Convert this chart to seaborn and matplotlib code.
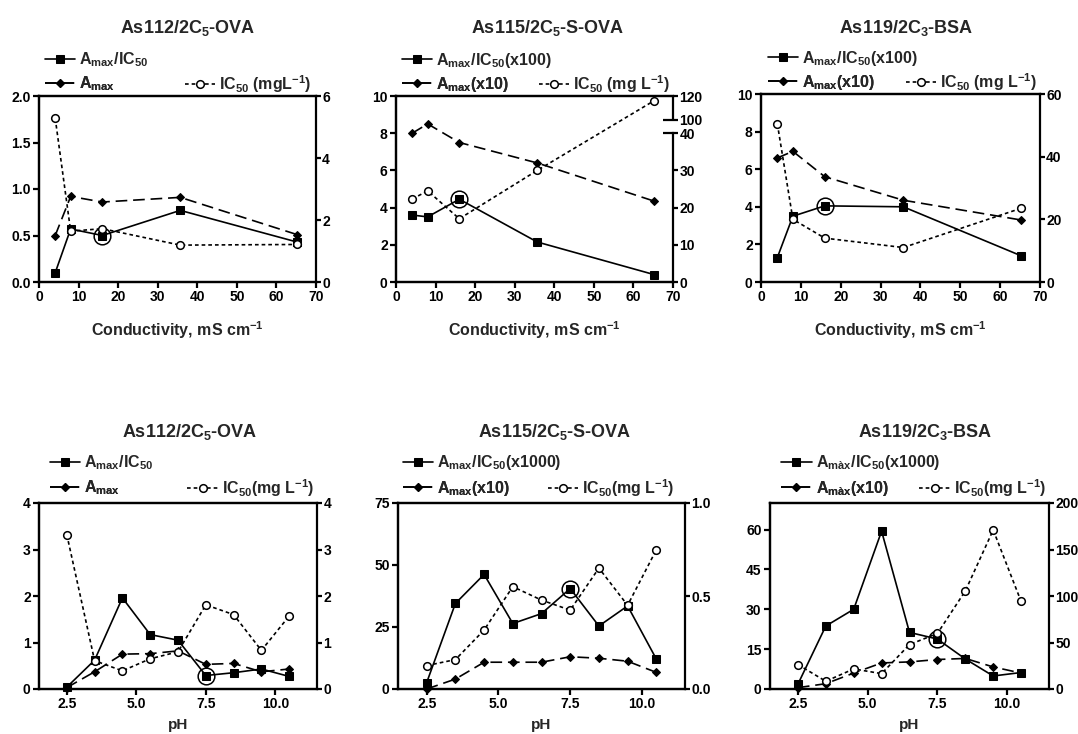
import numpy as np
import pandas as pd
import matplotlib
matplotlib.use("Agg")
import matplotlib.pyplot as plt
import matplotlib.transforms as mtransforms
from matplotlib.ticker import FormatStrFormatter, FixedLocator
import seaborn as sns

# ---------------- data ----------------
cond = [4.1, 8.0, 16.0, 35.7, 65.2]
ph = [2.5, 3.5, 4.5, 5.5, 6.5, 7.5, 8.5, 9.5, 10.5]

# top row: conductivity
as112_cond_ratio = [0.10, 0.57, 0.50, 0.77, 0.43]
as112_cond_amax = [0.50, 0.92, 0.86, 0.91, 0.51]
as112_cond_ic50 = [5.28, 1.64, 1.72, 1.19, 1.21]

as115_cond_ratio = [3.6, 3.5, 4.45, 2.15, 0.4]
as115_cond_amax = [8.0, 8.5, 7.5, 6.4, 4.35]
as115_cond_ic50 = [22.3, 24.5, 17.0, 30.0, 116.0]

as119_cond_ratio = [1.3, 3.5, 4.05, 4.0, 1.4]
as119_cond_amax = [6.6, 6.95, 5.6, 4.35, 3.3]
as119_cond_ic50 = [50.5, 20.0, 14.0, 11.0, 23.5]

# bottom row: pH
as112_ph_ratio = [0.04, 0.62, 1.96, 1.17, 1.05, 0.29, 0.35, 0.43, 0.27]
as112_ph_amax = [0.03, 0.37, 0.75, 0.76, 0.82, 0.53, 0.55, 0.37, 0.43]
as112_ph_ic50 = [3.32, 0.61, 0.39, 0.65, 0.80, 1.81, 1.60, 0.83, 1.57]

as115_ph_ratio = [2.6, 34.5, 46.2, 26.4, 30.4, 40.5, 25.4, 33.5, 12.1]
as115_ph_amax = [0.0, 4.0, 10.8, 10.8, 10.8, 13.0, 12.4, 11.2, 6.7]
as115_ph_ic50 = [0.126, 0.158, 0.317, 0.55, 0.478, 0.424, 0.65, 0.45, 0.748]

as119_ph_ratio = [1.8, 23.7, 30.0, 59.4, 21.3, 18.8, 11.3, 4.9, 6.2]
as119_ph_amax = [0.5, 2.0, 6.0, 9.8, 10.2, 11.1, 11.5, 8.3, 6.0]
as119_ph_ic50 = [26.3, 8.3, 21.6, 16.5, 47.8, 59.7, 105.4, 171.0, 94.2]

# highlighted (circled) points
highlight_x = [16.0, 16.0, 16.0, 7.5, 7.5, 7.5]
highlight_y = [0.50, 4.45, 4.05, 0.29, 40.5, 18.8]

titles = ["As112/2C$_5$-OVA", "As115/2C$_5$-S-OVA", "As119/2C$_3$-BSA",
          "As112/2C$_5$-OVA", "As115/2C$_5$-S-OVA", "As119/2C$_3$-BSA"]
ratio_labels = ["A$_{max}$/IC$_{50}$", "A$_{max}$/IC$_{50}$(x100)", "A$_{max}$/IC$_{50}$(x100)",
                "A$_{max}$/IC$_{50}$", "A$_{max}$/IC$_{50}$(x1000)", "A$_{màx}$/IC$_{50}$(x1000)"]
amax_labels = ["A$_{max}$", "A$_{max}$(x10)", "A$_{max}$(x10)",
               "A$_{max}$", "A$_{max}$(x10)", "A$_{màx}$(x10)"]
ic50_labels = ["IC$_{50}$ (mgL$^{-1}$)", "IC$_{50}$ (mg L$^{-1}$)", "IC$_{50}$ (mg L$^{-1}$)",
               "IC$_{50}$(mg L$^{-1}$)", "IC$_{50}$(mg L$^{-1}$)", "IC$_{50}$(mg L$^{-1}$)"]
xlabels = ["Conductivity, mS cm$^{-1}$"] * 3 + ["pH"] * 3

# ---------------- style ----------------
sns.set_style("ticks")
plt.rcParams["font.family"] = ["Liberation Sans", "DejaVu Sans"]
plt.rcParams["font.weight"] = "bold"
plt.rcParams["axes.labelweight"] = "bold"
plt.rcParams["mathtext.fontset"] = "custom"
plt.rcParams["mathtext.rm"] = "Liberation Sans:bold"
plt.rcParams["mathtext.it"] = "Liberation Sans:bold"
plt.rcParams["mathtext.bf"] = "Liberation Sans:bold"
plt.rcParams["mathtext.sf"] = "Liberation Sans:bold"
plt.rcParams["mathtext.default"] = "rm"

fig = plt.figure(figsize=(10.78, 7.34), dpi=100)

W, H = 1078.0, 734.0
boxes_px = [(39, 316, 96, 282), (396, 673, 96, 282), (761, 1040, 94, 282),
            (39, 317, 503, 689), (398, 685, 503, 689), (770, 1049, 503, 689)]
title_pos = [(188, 28), (548, 28), (906, 28), (190, 432), (555, 432), (925, 432)]

panels = [
    dict(x=cond, r=as112_cond_ratio, a=as112_cond_amax, c=as112_cond_ic50,
         ylim=(0, 2), yticks=np.arange(0, 2.01, 0.5), yfmt="%.1f",
         y2lim=(0, 6), y2ticks=[0, 2, 4, 6], y2fmt="%d"),
    dict(x=cond, r=as115_cond_ratio, a=as115_cond_amax, c=as115_cond_ic50,
         ylim=(0, 10), yticks=np.arange(0, 10.1, 2), yfmt="%d",
         y2lim=(0, 120), y2ticks=[0, 10, 20, 30, 40, 100, 120], y2fmt="%d", broken=True),
    dict(x=cond, r=as119_cond_ratio, a=as119_cond_amax, c=as119_cond_ic50,
         ylim=(0, 10), yticks=np.arange(0, 10.1, 2), yfmt="%d",
         y2lim=(0, 60), y2ticks=[0, 20, 40, 60], y2fmt="%d"),
    dict(x=ph, r=as112_ph_ratio, a=as112_ph_amax, c=as112_ph_ic50,
         ylim=(0, 4), yticks=np.arange(0, 4.1, 1), yfmt="%d",
         y2lim=(0, 4), y2ticks=[0, 1, 2, 3, 4], y2fmt="%d"),
    dict(x=ph, r=as115_ph_ratio, a=as115_ph_amax, c=as115_ph_ic50,
         ylim=(0, 75), yticks=[0, 25, 50, 75], yfmt="%d",
         y2lim=(0, 1.0), y2ticks=[0, 0.5, 1.0], y2fmt="%.1f"),
    dict(x=ph, r=as119_ph_ratio, a=as119_ph_amax, c=as119_ph_ic50,
         ylim=(0, 70), yticks=[0, 15, 30, 45, 60], yfmt="%d",
         y2lim=(0, 200), y2ticks=[0, 50, 100, 150, 200], y2fmt="%d"),
]

# broken right axis for panel 2
break_lo, break_hi = 40, 100
bk_v = [-1000, 0, break_lo, break_hi, 120, 1000]
bk_f = [-20.0, 0.0, 0.80, 0.872, 1.0, 6.632]


def fwd(v):
    return np.interp(v, bk_v, bk_f)


def inv(f):
    return np.interp(f, bk_f, bk_v)


LW = 1.2
SPW = 1.6
tick_fs = 10
leg_fs = 11.5

for i, p in enumerate(panels):
    l, r, t, b = boxes_px[i]
    ax = fig.add_axes([l / W, 1 - b / H, (r - l) / W, (b - t) / H])
    ax2 = ax.twinx()
    if p.get("broken"):
        ax2.set_yscale("function", functions=(fwd, inv))

    sns.lineplot(x=p["x"], y=p["r"], ax=ax, color="black", marker="s", markersize=5.5,
                 markeredgecolor="black", markerfacecolor="black", lw=LW, linestyle="-",
                 legend=False, clip_on=False, zorder=3)
    h_ratio = ax.get_lines()[-1]
    sns.lineplot(x=p["x"], y=p["a"], ax=ax, color="black", marker="D", markersize=3.8,
                 markeredgecolor="black", markerfacecolor="black", lw=LW,
                 linestyle=(0, (7, 3.5)), legend=False, clip_on=False, zorder=3)
    h_amax = ax.get_lines()[-1]
    sns.lineplot(x=p["x"], y=p["c"], ax=ax2, color="black", marker="o", markersize=5.5,
                 markeredgecolor="black", markerfacecolor="white", markeredgewidth=1.1,
                 lw=LW, linestyle=(0, (2.2, 1.8)), legend=False, clip_on=False, zorder=3)
    h_ic50 = ax2.get_lines()[-1]

    ax.plot([highlight_x[i]], [highlight_y[i]], marker="o", markersize=12,
            markerfacecolor="none", markeredgecolor="black", markeredgewidth=1.1,
            linestyle="none", clip_on=False, zorder=4)

    # axes limits & ticks
    if i < 3:
        ax.set_xlim(0, 70)
        ax.set_xticks(np.arange(0, 71, 10))
        ax.xaxis.set_major_formatter(FormatStrFormatter("%d"))
        ax.set_xlabel(xlabels[i], fontsize=11.5, labelpad=11)
    else:
        ax.set_xlim(1.5, 11.5)
        ax.set_xticks([2.5, 5.0, 7.5, 10.0])
        ax.xaxis.set_major_formatter(FormatStrFormatter("%.1f"))
        ax.set_xlabel(xlabels[i], fontsize=11, labelpad=5)
    ax.set_ylim(*p["ylim"])
    ax.set_yticks(p["yticks"])
    ax.yaxis.set_major_formatter(FormatStrFormatter(p["yfmt"]))
    ax2.set_ylim(*p["y2lim"])
    ax2.yaxis.set_major_locator(FixedLocator(p["y2ticks"]))
    ax2.yaxis.set_minor_locator(FixedLocator([]))
    ax2.yaxis.set_major_formatter(FormatStrFormatter(p["y2fmt"]))
    ax.set_ylabel("")
    ax2.set_ylabel("")

    for a_ in (ax, ax2):
        a_.tick_params(axis="both", which="major", direction="out", length=4, width=SPW,
                       labelsize=tick_fs, pad=2, color="black", labelcolor="black")
        for s in a_.spines.values():
            s.set_linewidth(SPW)
            s.set_color("black")
            s.set_visible(True)
    ax.spines["right"].set_visible(False)
    ax2.tick_params(axis="y", right=True, left=False, labelright=True, labelleft=False,
                    length=3.5, pad=1)
    for lab in ax.get_xticklabels() + ax.get_yticklabels() + ax2.get_yticklabels():
        lab.set_fontweight("bold")

    if p.get("broken"):
        ax2.spines["right"].set_bounds(0, break_lo)
        btr = mtransforms.blended_transform_factory(ax2.transAxes, ax2.transData)
        ax2.plot([1, 1], [break_hi, p["y2lim"][1]], transform=btr, color="black",
                 lw=SPW, clip_on=False, solid_capstyle="butt")
        for yb in (break_lo, break_hi):
            ax2.plot([0.965, 1.0], [yb, yb], transform=btr, color="black",
                     lw=SPW, clip_on=False, solid_capstyle="butt")

    # title
    tx, ty = title_pos[i]
    fig.text(tx / W, 1 - ty / H, titles[i], ha="center", va="center",
             fontsize=13, fontweight="bold")

    # legend entries
    hpx = float(b - t)
    if i < 3:
        row1, row2 = 1 + 36 / hpx, 1 + 12 / hpx
    else:
        row1, row2 = 1 + 40 / hpx, 1 + 15 / hpx
    lx = [0.022, 0.022, 0.025, 0.04, 0.017, 0.04][i]
    rx = [0.985, 0.99, 0.99, 0.99, 0.965, 0.99][i]
    common = dict(frameon=False, fontsize=leg_fs, handlelength=1.9, handletextpad=0.25,
                  borderpad=0, borderaxespad=0, numpoints=1)
    leg1 = ax.legend([h_ratio], [ratio_labels[i]], loc="center left",
                     bbox_to_anchor=(lx, row1), **common)
    ax.add_artist(leg1)
    leg2 = ax.legend([h_amax], [amax_labels[i]], loc="center left",
                     bbox_to_anchor=(lx, row2), **common)
    ax.add_artist(leg2)
    leg3 = ax2.legend([h_ic50], [ic50_labels[i]], loc="center right",
                      bbox_to_anchor=(rx, row2), **common)
    for lg in (leg1, leg2, leg3):
        for txt in lg.get_texts():
            txt.set_fontweight("bold")

fig.savefig("out.png", dpi=100, facecolor="white")
